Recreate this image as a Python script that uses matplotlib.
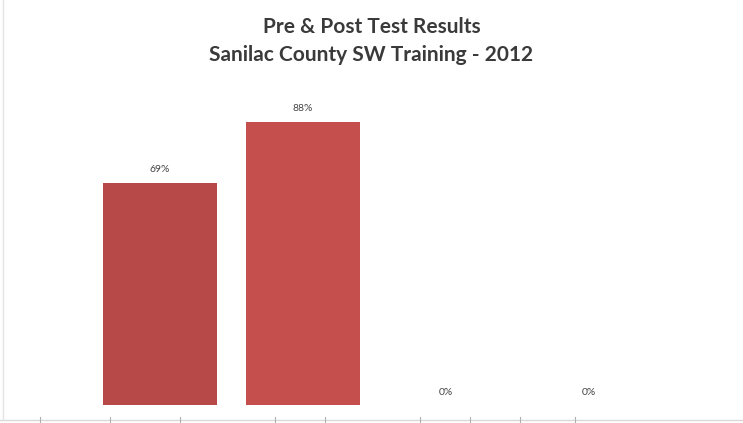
import matplotlib
matplotlib.use("Agg")
import matplotlib.pyplot as plt
from matplotlib.lines import Line2D

TITLE = "Pre & Post Test Results\nSanilac County SW Training - 2012"
CATEGORIES = ["Pre-Test", "Post-Test", "Group 3", "Group 4"]
SCORES = [69, 88, 0, 0]
COLORS = ["#b84949", "#c54f4d", "#c54f4d", "#c54f4d"]

W, H = 743, 423
fig = plt.figure(figsize=(W / 100, H / 100), dpi=100)
fig.patch.set_facecolor("white")

# plot area
ax = fig.add_axes([88.5 / W, 1 - 405 / H, 572 / W, 322 / H])
x = range(len(CATEGORIES))
bars = ax.bar(x, SCORES, width=0.8, color=COLORS)
ax.set_ylim(0, 100)
ax.set_xlim(-0.5, len(CATEGORIES) - 0.5)
for b, v in zip(bars, SCORES):
    ax.text(b.get_x() + b.get_width() / 2, v + 2.6, f"{v}%", ha="center",
            va="bottom", fontsize=7.5, color="#444444", family=["Lato", "DejaVu Sans"])
ax.axis("off")

fig.text(0.5, 1 - 41 / H, TITLE, ha="center", va="center", fontsize=15,
         fontweight="bold", color="#3a3a3a", family=["Lato", "DejaVu Sans"],
         linespacing=1.55)

# faint scanned sheet border at bottom and left
fig.add_artist(Line2D([0, 1], [1 - 420 / H] * 2, color="#d8d8d8", lw=1))
fig.add_artist(Line2D([3 / W] * 2, [1 - 420 / H, 1], color="#e4e4e4", lw=1))
for tx in [40, 110, 180, 275, 325, 420, 470, 520, 575]:
    fig.add_artist(Line2D([tx / W] * 2, [1 - 423 / H, 1 - 417 / H], color="#b0b0b0", lw=0.8))

fig.savefig("out.png", dpi=100, facecolor="white")
